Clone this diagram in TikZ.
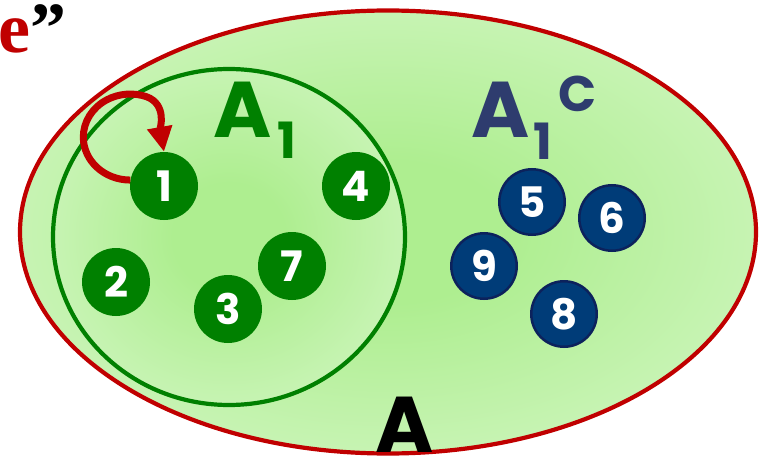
\documentclass[tikz,border=0pt]{standalone}
\usepackage{fontspec}
\setmainfont{Poppins}
\newfontfamily\quotefont{Liberation Serif}
\usetikzlibrary{positioning,arrows.meta}

\definecolor{setred}{RGB}{192,0,0}
\definecolor{setgreen}{RGB}{0,128,0}
\definecolor{setnavy}{RGB}{0,60,120}
\definecolor{navyrim}{RGB}{12,34,92}
\definecolor{compblue}{RGB}{46,60,110}
\definecolor{glowin}{RGB}{174,238,144}
\definecolor{glowout}{RGB}{232,251,226}

\pgfdeclareradialshading{setglow}{\pgfpoint{0bp}{0bp}}{color(0bp)=(glowin); color(8bp)=(glowin); color(48bp)=(glowout); color(50bp)=(glowout)}

\tikzset{
    inner elt/.style = {
        circle,
        fill = setgreen,
        text = white,
        minimum size = 68pt,
        inner sep = 0pt,
        font = \fontsize{42}{42}\selectfont\bfseries,
        },
    outer elt/.style = {
        circle,
        fill = setnavy,
        draw = navyrim,
        line width = 2.5pt,
        text = white,
        minimum size = 65.5pt,
        inner sep = 0pt,
        font = \fontsize{42}{42}\selectfont\bfseries,
        },
    set label/.style = {
        anchor = base,
        inner sep = 0pt,
        font = \fontsize{79}{79}\selectfont\bfseries,
        },
    sub label/.style = {
        anchor = base,
        inner sep = 0pt,
        font = \fontsize{50}{50}\selectfont\bfseries,
        },
    loop arrow/.style = {
        draw = setred,
        line width = 7pt,
        -{Triangle[length=25pt,width=24pt]},
        },
}

\begin{document}
\begin{tikzpicture}[x=1pt, y=1pt, on grid]
    \useasboundingbox (0,0) rectangle (765,456);

    % the two sets
    \shade[shading=setglow, draw=setred, line width=4.2pt] (388,224) ellipse [x radius=368, y radius=221.5];
    \shade[shading=setglow, draw=setgreen, line width=4.2pt] (229,219) ellipse [x radius=176, y radius=168];

    % elements of A1
    \node[inner elt] (n1) at (164,270) {1};
    \node[inner elt, right=192pt of n1] (n4) {4};
    \node[inner elt, below left=96pt and 48pt of n1] (n2) {2};
    \node[inner elt, below right=80pt and 128pt of n1] (n7) {7};
    \node[inner elt, below left=43pt and 64pt of n7] (n3) {3};

    % elements of the complement
    \node[outer elt, below right=16pt and 176pt of n4] (n5) {5};
    \node[outer elt, below right=16pt and 80pt of n5] (n6) {6};
    \node[outer elt, below left=64pt and 48pt of n5] (n9) {9};
    \node[outer elt, below right=48pt and 80pt of n9] (n8) {8};

    \draw[loop arrow] (n1.170) arc[start angle=-90, end angle=-290, x radius=47, y radius=43]
        to[out=-20, in=100] (n1.north);

    % labels
    \node[set label, text=setgreen] (lblA) at (243,318) {A};
    \node[sub label, text=setgreen] (lblAone) at (287,298) {1};
    \node[set label, text=compblue] (lblB) at (501,318) {A};
    \node[sub label, text=compblue] (lblBone) at (543,297) {1};
    \node[sub label, text=compblue] (lblC) at (578,344) {C};
    \node[set label, text=black] (lblSet) at (405,4) {A};

    \node[anchor=base west, inner sep=0pt, font=\quotefont\bfseries\fontsize{72}{72}\selectfont] (quote) at (-2,403)
        {\textcolor{setred}{e}”};
\end{tikzpicture}
\end{document}
